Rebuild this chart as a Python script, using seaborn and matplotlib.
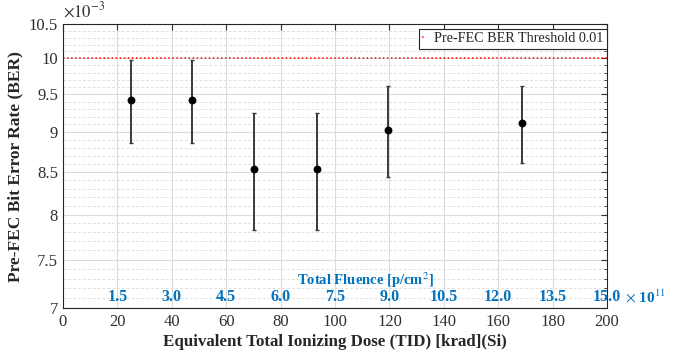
import numpy as np
import pandas as pd
import matplotlib
matplotlib.use("Agg")
import matplotlib.pyplot as plt
from matplotlib.ticker import FixedLocator, NullFormatter
import seaborn as sns

# data
tid_krad = [25, 47.5, 70.3, 93.4, 119.3, 168.8]
ber = [9.42e-3, 9.42e-3, 8.535e-3, 8.535e-3, 9.03e-3, 9.115e-3]
ber_err = [0.56e-3, 0.56e-3, 0.71e-3, 0.71e-3, 0.59e-3, 0.505e-3]
threshold = 0.01

x_ticks = [0, 20, 40, 60, 80, 100, 120, 140, 160, 180, 200]
fluence_pos = [20, 40, 60, 80, 100, 120, 140, 160, 180, 200]
fluence_labels = ["1.5", "3.0", "4.5", "6.0", "7.5", "9.0", "10.5", "12.0", "13.5", "15.0"]
y_ticks = [7e-3, 7.5e-3, 8e-3, 8.5e-3, 9e-3, 9.5e-3, 10e-3, 10.5e-3]
y_tick_labels = ["7", "7.5", "8", "8.5", "9", "9.5", "10", "10.5"]
y_minor = [v * 1e-4 for v in range(70, 106)]

sns.set_style("white")
plt.rcParams["font.family"] = ["Liberation Serif", "DejaVu Serif"]
plt.rcParams["mathtext.fontset"] = "stix"

df = pd.DataFrame({"tid": tid_krad, "ber": ber, "err": ber_err})

fig = plt.figure(figsize=(6.73, 3.58), dpi=100)
ax = fig.add_axes([0.0936, 0.1397, 0.8085, 0.7925])

ax.set_yscale("log")
ax.set_xlim(0, 200)
ax.set_ylim(7e-3, 10.5e-3)

# grid like MATLAB: solid major, dashed minor on y
ax.yaxis.set_major_locator(FixedLocator(y_ticks))
ax.set_yticklabels(y_tick_labels)
ax.yaxis.set_minor_locator(FixedLocator(y_minor))
ax.yaxis.set_minor_formatter(NullFormatter())
ax.set_xticks(x_ticks)
ax.grid(True, which="major", color="#dcdcdc", linewidth=0.8)
ax.grid(True, which="minor", axis="y", color="#e0e0e0", linewidth=0.7, linestyle=(0, (3, 2)))
ax.set_axisbelow(True)

ax.axhline(threshold, color="red", linestyle=":", linewidth=1.1,
           label="Pre-FEC BER Threshold 0.01")

ax.errorbar(df["tid"], df["ber"], yerr=df["err"], fmt="none",
            ecolor="#3a3a3a", elinewidth=1.4, capsize=1.5, capthick=1.0, zorder=3)
sns.scatterplot(data=df, x="tid", y="ber", color="black", s=32,
                edgecolor="black", linewidth=0, ax=ax, zorder=4, legend=False)

ax.tick_params(axis="both", which="both", direction="in", top=True, right=True,
               colors="#303030", labelsize=12)
ax.tick_params(which="major", length=4, width=0.8)
ax.tick_params(which="minor", length=2.5, width=0.6)
ax.tick_params(axis="x", which="major", pad=4)
for s in ax.spines.values():
    s.set_color("#262626")
    s.set_linewidth(0.8)

ax.set_xlabel("Equivalent Total Ionizing Dose (TID) [krad](Si)",
              fontsize=12.2, fontweight="bold", color="#262626", labelpad=3)
ax.set_ylabel("Pre-FEC Bit Error Rate (BER)",
              fontsize=12.5, fontweight="bold", color="#262626", labelpad=4)

ax.text(0.0, 1.01, r"$\times10^{-3}$", transform=ax.transAxes,
        fontsize=12, color="#303030", ha="left", va="bottom")

# secondary fluence labels drawn inside the axes
blue = "#0072BD"
trans = ax.get_xaxis_transform()
for pos, lab in zip(fluence_pos, fluence_labels):
    ax.text(pos, 0.039, lab, transform=trans, ha="center", va="center",
            fontsize=11.5, fontweight="bold", color=blue)
ax.annotate(r"$\times$ 10$^{11}$", xy=(200, 0.039), xycoords=trans,
            xytext=(13, 0), textcoords="offset points", ha="left", va="center",
            fontsize=11, fontweight="bold", color=blue, annotation_clip=False)
ax.text(111, 0.099, "Total Fluence [p/cm$^{2}$]", transform=trans, ha="center",
        va="center", fontsize=10.5, fontweight="bold", color=blue)

leg = ax.legend(loc="upper right", bbox_to_anchor=(1.0, 0.985), fontsize=10.2,
                handlelength=0.15, handletextpad=0.7, borderpad=0.25,
                fancybox=False, framealpha=1, edgecolor="#262626", borderaxespad=0)
leg.get_frame().set_linewidth(0.8)

plt.savefig("out.png", dpi=100)
plt.close()
